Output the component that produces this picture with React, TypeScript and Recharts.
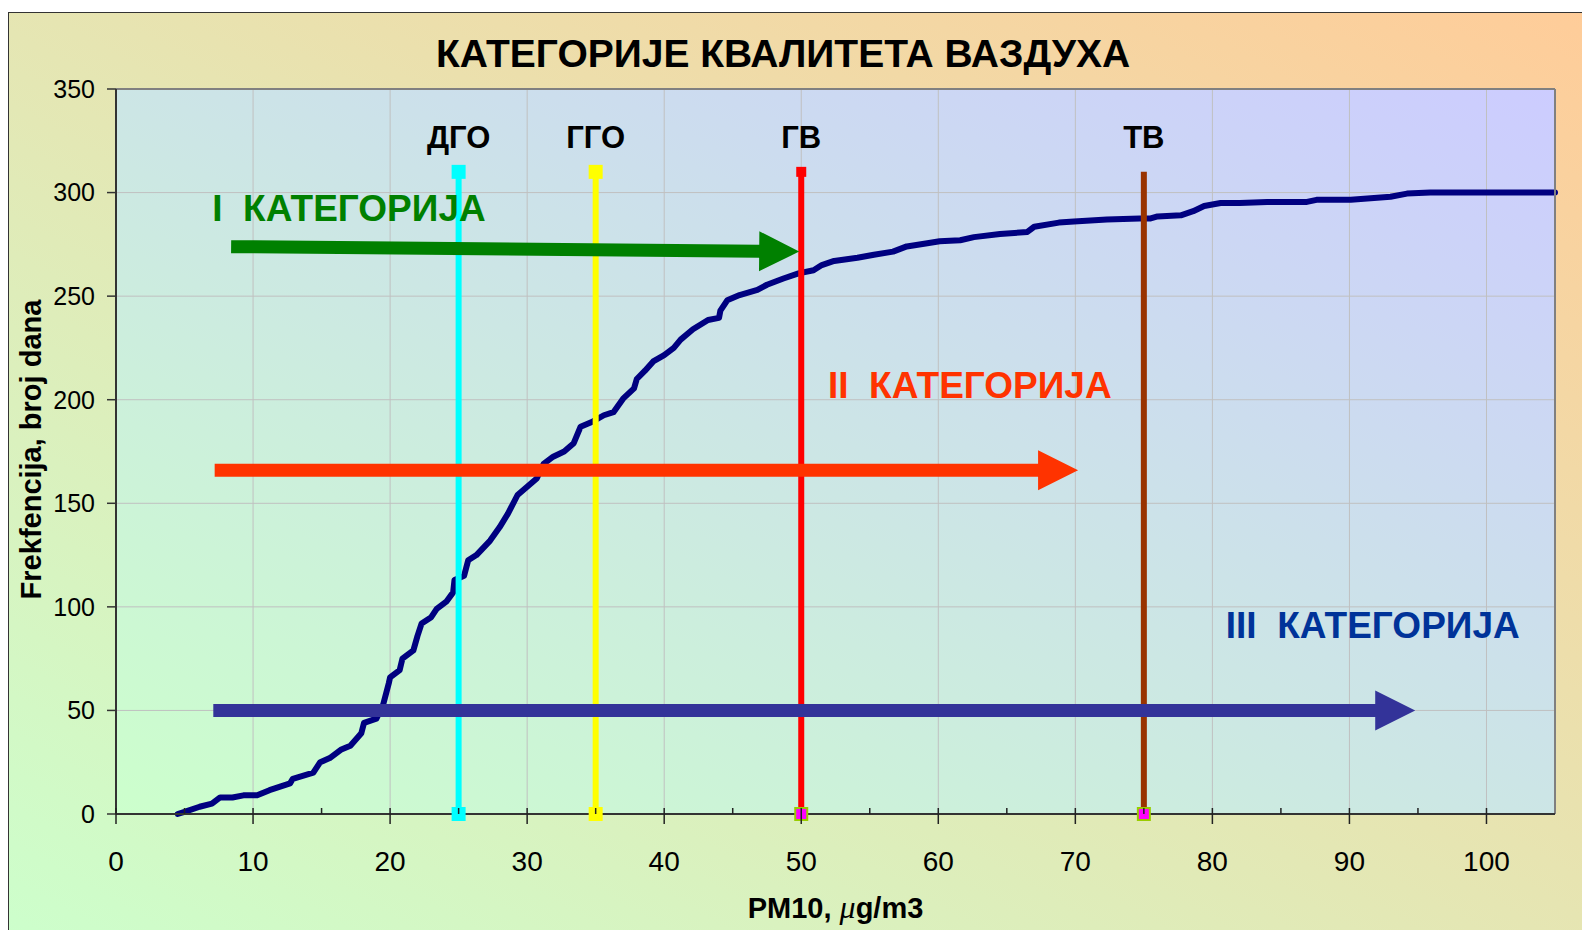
import React from "react";
import {
  ComposedChart,
  Line,
  XAxis,
  YAxis,
  CartesianGrid,
  ReferenceLine,
  ReferenceDot,
} from "recharts";

// cumulative frequency of daily PM10 values
const pm10 = [
  4.5, 5.0, 6.1, 7.0, 7.6, 8.5, 9.3, 10.3, 11.2, 12.7,
  12.9, 14.4, 14.9, 15.6, 16.4, 17.1, 17.9, 18.1, 19.0, 19.5,
  19.9, 20.0, 20.7, 20.9, 21.7, 22.0, 22.3, 23.0, 23.4, 24.1,
  24.6, 24.7, 25.4, 25.7, 26.3, 27.3, 28.0, 28.6, 29.3, 30.0,
  30.7, 31.2, 31.9, 32.7, 33.4, 33.9, 34.8, 35.6, 36.3, 37.0,
  37.8, 38.0, 38.6, 39.2, 40.0, 40.7, 41.2, 42.1, 43.2, 44.0,
  44.1, 44.6, 45.5, 46.8, 47.5, 48.7, 49.8, 50.9, 51.5, 52.4,
  54.1, 55.3, 56.7, 57.7, 59.2, 60.1, 61.6, 62.6, 64.5, 66.5,
  67.0, 68.8, 69.9, 72.3, 74.7, 75.5, 76.0, 77.7, 78.6, 79.4,
  80.6, 82.0, 84.0, 86.9, 87.6, 90.1, 93.0, 94.2, 95.9, 96.5,
  105,
];
const days = [
  0, 1, 3.5, 5, 8, 8, 9, 9, 11.5, 14.8,
  17, 20, 25, 27, 31, 33, 39, 44, 46, 53,
  63, 66, 69.5, 75, 79, 86, 92, 95, 99, 102.5,
  107, 113, 115, 122.5, 125, 132, 138.5, 145, 154, 158,
  162, 169, 172.5, 175, 179, 187, 189.5, 192.5, 194, 200.5,
  205.5, 210, 214, 218.5, 221.5, 225, 229, 234, 238.5, 239.5,
  243, 248, 250.5, 253, 255.5, 258.5, 261, 262.5, 265, 267,
  268.5, 270, 271.5, 274, 275.5, 276.5, 277, 278.5, 280, 281,
  283.5, 285.5, 286, 287, 287.5, 287.5, 288.5, 289, 291, 293.5,
  295, 295, 295.5, 295.5, 296.5, 296.5, 298, 299.5, 300, 300,
  300,
];

const xTicks = [0, 5, 10, 15, 20, 25, 30, 35, 40, 45, 50, 55, 60, 65, 70, 75, 80, 85, 90, 95, 100];
const xGrid = [0, 10, 20, 30, 40, 50, 60, 70, 80, 90, 100];
const yTicks = [0, 50, 100, 150, 200, 250, 300, 350];

// limit values
const limitValues = [25, 35, 50, 75];
const limitNames = ["ДГО", "ГГО", "ГВ", "ТВ"];
const limitTop = 310;
const limitLabelY = 327;

// category arrows and captions
const categoryNames = [
  "I\u00a0\u00a0КАТЕГОРИЈА",
  "II\u00a0\u00a0КАТЕГОРИЈА",
  "III\u00a0\u00a0КАТЕГОРИЈА",
];
const categoryTextX = [17.0, 62.3, 91.7];
const categoryTextY = [292.8, 207.4, 91.2];
const arrowFromX = [8.4, 7.2, 7.1];
const arrowFromY = [273.9, 166, 50];
const arrowToX = [49.85, 70.2, 94.8];
const arrowToY = [271.5, 166, 50];

const curve = pm10.map((x, i) => ({ x, y: days[i] }));

const FONT = "'Liberation Sans', Arial, Helvetica, sans-serif";
const limitColors = ["#00FFFF", "#FFFF00", "#FF0000", "#993300"];
const categoryColors = ["#008000", "#FF3300", "#003399"];
const arrowColors = ["#008000", "#FF3300", "#333399"];
const topMarkers = [
  { size: 14, fill: "#00FFFF" },
  { size: 14, fill: "#FFFF00" },
  { size: 10, fill: "#FF0000" },
  null,
];
const bottomMarkers = [
  { size: 14, fill: "#00FFFF" },
  { size: 14, fill: "#FFFF00" },
  { size: 12, fill: "#FF00FF", stroke: "#99CC00" },
  { size: 12, fill: "#FF00FF", stroke: "#99CC00" },
];

const square = (m: { size: number; fill: string; stroke?: string }) => (p: any) => (
  <rect
    x={p.cx - m.size / 2}
    y={p.cy - m.size / 2}
    width={m.size}
    height={m.size}
    fill={m.fill}
    stroke={m.stroke ?? "none"}
    strokeWidth={m.stroke ? 2 : 0}
  />
);

const arrowShape = (color: string) => (p: any) => {
  const { x1, y1, x2, y2 } = p;
  if ([x1, y1, x2, y2].some((v) => typeof v !== "number")) return <g />;
  const len = Math.hypot(x2 - x1, y2 - y1) || 1;
  const ux = (x2 - x1) / len;
  const uy = (y2 - y1) / len;
  const nx = -uy;
  const ny = ux;
  const head = 40;
  const hw = 20;
  const sw = 6.5;
  const bx = x2 - ux * head;
  const by = y2 - uy * head;
  const pts = [
    [x1 + nx * sw, y1 + ny * sw],
    [bx + nx * sw, by + ny * sw],
    [bx + nx * hw, by + ny * hw],
    [x2, y2],
    [bx - nx * hw, by - ny * hw],
    [bx - nx * sw, by - ny * sw],
    [x1 - nx * sw, y1 - ny * sw],
  ];
  return <polygon points={pts.map((q) => q.join(",")).join(" ")} fill={color} />;
};

const XTick = (p: any) => {
  const { x, y, payload } = p;
  const v = payload.value;
  const major = v % 10 === 0;
  return (
    <g>
      <line x1={x} x2={x} y1={y - 6} y2={major ? y + 10 : y} stroke="#222" strokeWidth={1.5} />
      {major && (
        <text x={x} y={y + 57} textAnchor="middle" fontSize={28} fill="#000" fontFamily={FONT}>
          {v}
        </text>
      )}
    </g>
  );
};

const yTitle = (p: any) => {
  const vb = p.viewBox ?? { x: 0, y: 89, width: 116, height: 725 };
  const x = vb.x + 41;
  const y = vb.y + vb.height / 2 - 2;
  return (
    <text
      x={x}
      y={y}
      transform={`rotate(-90 ${x} ${y})`}
      textAnchor="middle"
      fontSize={29}
      fontWeight="bold"
      fill="#000"
      fontFamily={FONT}
    >
      Frekfencija, broj dana
    </text>
  );
};

const xTitle = (p: any) => {
  const vb = p.viewBox ?? { x: 116, y: 814, width: 1439, height: 116 };
  const x = vb.x + vb.width / 2;
  const y = vb.y + 104;
  return (
    <text x={x} y={y} textAnchor="middle" fontSize={29} fontWeight="bold" fill="#000" fontFamily={FONT}>
      PM10,{" "}
      <tspan fontFamily="'Liberation Serif', serif" fontStyle="italic" fontWeight="normal" fontSize={32}>
        μ
      </tspan>
      g/m3
    </text>
  );
};

export default function App() {
  return (
    <div
      style={{
        position: "absolute",
        left: 0,
        top: 0,
        width: 1582,
        height: 930,
        overflow: "hidden",
        background: "#fff",
        fontFamily: FONT,
      }}
    >
      <div
        style={{
          position: "absolute",
          left: 8,
          top: 12,
          width: 1600,
          height: 940,
          border: "1.5px solid #333",
          background: "linear-gradient(to top right, #CCFFCC, #FFCC99)",
        }}
      />
      <div
        style={{
          position: "absolute",
          left: 0,
          top: 34,
          width: 1566,
          textAlign: "center",
          fontSize: 39,
          lineHeight: "39px",
          fontWeight: "bold",
          color: "#000",
        }}
      >
        КАТЕГОРИЈЕ КВАЛИТЕТА ВАЗДУХА
      </div>
      <div style={{ position: "absolute", left: 0, top: 0 }}>
        <ComposedChart
          width={1582}
          height={930}
          data={curve}
          margin={{ top: 89, right: 27, bottom: 0, left: 0 }}
        >
          <defs>
            <linearGradient id="plotBg" x1="0" y1="1" x2="1" y2="0">
              <stop offset="0%" stopColor="#CCFFCC" />
              <stop offset="100%" stopColor="#CCCCFF" />
            </linearGradient>
          </defs>
          <CartesianGrid
            fill="url(#plotBg)"
            fillOpacity={1}
            stroke="#C0C0C0"
            strokeWidth={1}
            verticalValues={xGrid}
          />
          <XAxis
            type="number"
            dataKey="x"
            domain={[0, 105]}
            ticks={xTicks}
            interval={0}
            height={116}
            tick={(p: any) => <XTick {...p} />}
            tickLine={false}
            tickSize={0}
            tickMargin={0}
            axisLine={{ stroke: "#333", strokeWidth: 2 }}
            label={xTitle}
          />
          <YAxis
            type="number"
            domain={[0, 350]}
            ticks={yTicks}
            interval={0}
            width={116}
            tick={{ fontSize: 25, fill: "#000", fontFamily: FONT }}
            tickSize={9}
            tickMargin={12}
            tickLine={{ stroke: "#333", strokeWidth: 1.5 }}
            axisLine={{ stroke: "#333", strokeWidth: 2 }}
            label={yTitle}
          />
          <ReferenceLine y={350} stroke="#808080" strokeWidth={2} zIndex={450} />
          <ReferenceLine x={105} stroke="#808080" strokeWidth={2} zIndex={450} />
          <Line
            type="linear"
            dataKey="y"
            stroke="#000080"
            strokeWidth={6}
            strokeLinejoin="round"
            strokeLinecap="round"
            dot={false}
            activeDot={false}
            isAnimationActive={false}
            zIndex={400}
          />
          {limitValues.map((v, i) => (
            <ReferenceLine
              key={`lim-${i}`}
              segment={[
                { x: v, y: 0 },
                { x: v, y: limitTop },
              ]}
              stroke={limitColors[i]}
              strokeWidth={6}
              zIndex={450}
            />
          ))}
          {limitValues.map((v, i) =>
            topMarkers[i] ? (
              <ReferenceDot
                key={`top-${i}`}
                x={v}
                y={limitTop}
                r={7}
                shape={square(topMarkers[i]!)}
                zIndex={1100}
              />
            ) : null
          )}
          {limitValues.map((v, i) => (
            <ReferenceDot
              key={`bot-${i}`}
              x={v}
              y={0}
              r={7}
              shape={square(bottomMarkers[i])}
              zIndex={1100}
            />
          ))}
          {arrowFromX.map((_, i) => (
            <ReferenceLine
              key={`arr-${i}`}
              segment={[
                { x: arrowFromX[i], y: arrowFromY[i] },
                { x: arrowToX[i], y: arrowToY[i] },
              ]}
              stroke={arrowColors[i]}
              shape={arrowShape(arrowColors[i])}
              zIndex={1150}
            />
          ))}
          {limitValues.map((v, i) => (
            <ReferenceDot
              key={`lbl-${i}`}
              x={v}
              y={limitLabelY}
              r={0}
              shape={() => <g />}
              label={{
                value: limitNames[i],
                position: "center",
                fill: "#000",
                fontSize: 31,
                fontWeight: "bold",
                fontFamily: FONT,
              }}
              zIndex={1200}
            />
          ))}
          {categoryNames.map((name, i) => (
            <ReferenceDot
              key={`cat-${i}`}
              x={categoryTextX[i]}
              y={categoryTextY[i]}
              r={0}
              shape={() => <g />}
              label={{
                value: name,
                position: "center",
                fill: categoryColors[i],
                fontSize: 37,
                fontWeight: "bold",
                fontFamily: FONT,
              }}
              zIndex={1200}
            />
          ))}
        </ComposedChart>
      </div>
    </div>
  );
}
